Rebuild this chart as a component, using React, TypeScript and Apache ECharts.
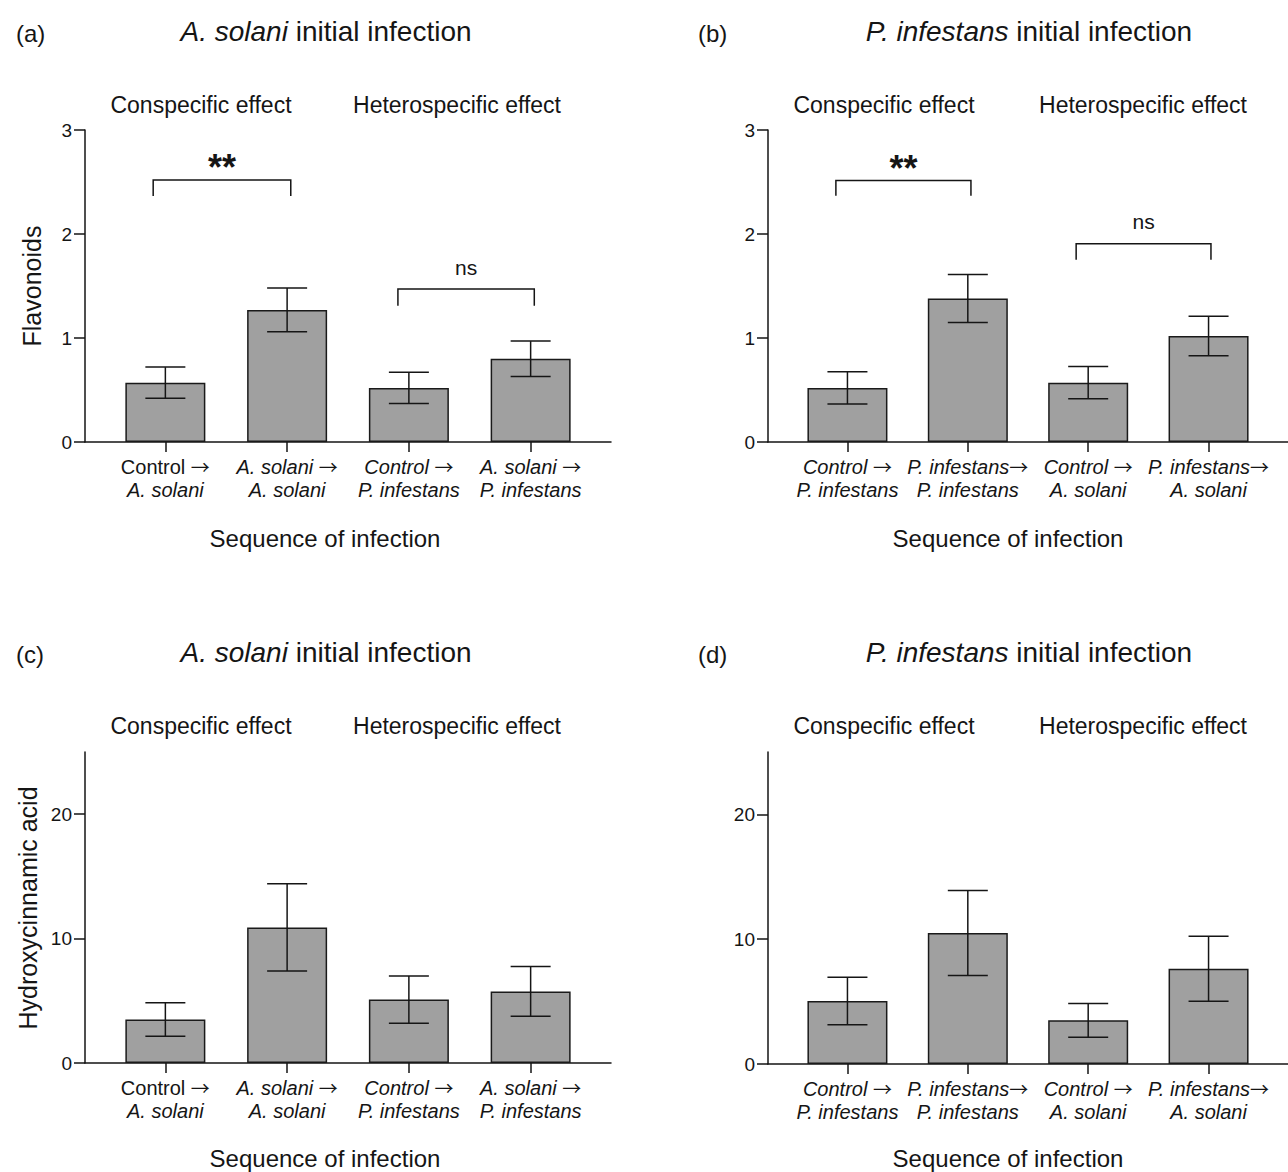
import React, { useEffect, useRef } from "react";
import * as echarts from "echarts";

// ---- Data ----
const positions = [0, 1, 2, 3];

const flavA = [0.57, 1.27, 0.52, 0.8];
const flavAErr = [0.15, 0.21, 0.15, 0.17];
const flavB = [0.52, 1.38, 0.57, 1.02];
const flavBErr = [0.155, 0.23, 0.155, 0.19];
const hcaC = [3.5, 10.9, 5.1, 5.75];
const hcaCErr = [1.35, 3.5, 1.9, 2.0];
const hcaD = [5.05, 10.5, 3.5, 7.63];
const hcaDErr = [1.9, 3.4, 1.35, 2.6];

const catLine1A = ["Control →", "A. solani →", "Control →", "A. solani →"];
const catLine2A = ["A. solani", "A. solani", "P. infestans", "P. infestans"];
const catLine1Upright = [true, false, false, false];
const catLine1B = ["Control →", "P. infestans→", "Control →", "P. infestans→"];
const catLine2B = ["P. infestans", "P. infestans", "A. solani", "A. solani"];
const catLine1UprightB = [false, false, false, false];

const topTicks = [0, 1, 2, 3];
const bottomTicks = [0, 10, 20];

// brackets: [x1, x2, yTop, yLeg]
const bracketsA = [
  [-0.1, 1.03, 2.52, 2.366],
  [1.91, 3.03, 1.47, 1.31],
];
const bracketLabelsA = ["**", "ns"];
const bracketsB = [
  [-0.096, 1.026, 2.514, 2.367],
  [1.9, 3.02, 1.906, 1.752],
];
const bracketLabelsB = ["**", "ns"];

const FONT = "'Liberation Sans', Arial, Helvetica, sans-serif";
const ARROW_FONT = "'Noto Sans CJK SC', 'DejaVu Sans', sans-serif";
const INK = "#151515";

function fmtLine(s: string, style: string) {
  return s
    .split("→")
    .map((p) => (p ? "{" + style + "|" + p + "}" : ""))
    .join("{ar|→}");
}

function buildPanel(
  idx: number,
  left: number,
  top: number,
  height: number,
  yMax: number,
  ticks: number[],
  means: number[],
  errs: number[],
  l1: string[],
  l2: string[],
  upright: boolean[],
  brackets: number[][] | null,
  bracketLabels: string[] | null
) {
  const grid = { left, top, width: 526, height, containLabel: false };
  const xAxis = {
    gridIndex: idx,
    type: "value",
    min: -0.66,
    max: 3.66,
    splitLine: { show: false },
    axisLine: { show: true, onZero: false, lineStyle: { color: INK, width: 1.5 } },
    axisTick: {
      show: true,
      customValues: positions,
      length: 10,
      lineStyle: { color: INK, width: 1.5 },
    },
    axisLabel: {
      show: true,
      customValues: positions,
      margin: 13,
      formatter: (v: number) => {
        const i = Math.round(v);
        if (i < 0 || i > 3) return "";
        return fmtLine(l1[i], upright[i] ? "u" : "i") + "\n" + fmtLine(l2[i], "i");
      },
      rich: {
        u: { fontSize: 20, fontFamily: FONT, color: INK, lineHeight: 23 },
        i: { fontSize: 20, fontFamily: FONT, fontStyle: "italic", color: INK, lineHeight: 23 },
        ar: { fontSize: 19, fontFamily: ARROW_FONT, color: INK, lineHeight: 23 },
      },
    },
  };
  const yAxis = {
    gridIndex: idx,
    type: "value",
    min: 0,
    max: yMax,
    splitLine: { show: false },
    axisLine: { show: true, onZero: false, lineStyle: { color: INK, width: 1.5 } },
    axisTick: {
      show: true,
      customValues: ticks,
      length: 11,
      lineStyle: { color: INK, width: 1.5 },
    },
    axisLabel: {
      show: true,
      customValues: ticks,
      margin: 13,
      fontSize: 19,
      fontFamily: FONT,
      color: INK,
    },
  };
  const series: any[] = [
    {
      type: "bar",
      xAxisIndex: idx,
      yAxisIndex: idx,
      barWidth: 80,
      data: means.map((m, i) => [positions[i], m]),
      itemStyle: { color: "#a0a0a0", borderColor: "#1a1a1a", borderWidth: 1.5 },
      z: 2,
    },
    {
      type: "custom",
      xAxisIndex: idx,
      yAxisIndex: idx,
      z: 4,
      data: means.map((m, i) => [positions[i], m - errs[i], m + errs[i]]),
      renderItem: (params: any, api: any) => {
        const x = api.value(0);
        const lo = api.coord([x, api.value(1)]);
        const hi = api.coord([x, api.value(2)]);
        const h = 20;
        const st = { stroke: INK, lineWidth: 1.5 };
        return {
          type: "group",
          children: [
            { type: "line", shape: { x1: lo[0], y1: lo[1], x2: hi[0], y2: hi[1] }, style: st },
            { type: "line", shape: { x1: hi[0] - h, y1: hi[1], x2: hi[0] + h, y2: hi[1] }, style: st },
            { type: "line", shape: { x1: lo[0] - h, y1: lo[1], x2: lo[0] + h, y2: lo[1] }, style: st },
          ],
        };
      },
    },
  ];
  if (brackets && bracketLabels) {
    series.push({
      type: "custom",
      xAxisIndex: idx,
      yAxisIndex: idx,
      z: 5,
      data: brackets,
      renderItem: (params: any, api: any) => {
        const x1 = api.value(0);
        const x2 = api.value(1);
        const yT = api.value(2);
        const yL = api.value(3);
        const a = api.coord([x1, yL]);
        const b = api.coord([x1, yT]);
        const c = api.coord([x2, yT]);
        const d = api.coord([x2, yL]);
        const label = bracketLabels[params.dataIndex];
        const isStar = label === "**";
        return {
          type: "group",
          children: [
            {
              type: "polyline",
              shape: { points: [a, b, c, d] },
              style: { stroke: INK, lineWidth: 1.5, fill: null },
            },
            {
              type: "text",
              x: (b[0] + c[0]) / 2,
              y: b[1] - (isStar ? 12 : 22),
              style: {
                text: label,
                fontSize: isStar ? 36 : 21,
                fontWeight: isStar ? "bold" : "normal",
                fontFamily: FONT,
                fill: INK,
                align: "center",
                verticalAlign: "middle",
              },
            },
          ],
        };
      },
    });
  }
  return { grid, xAxis, yAxis, series };
}

function txt(x: number, y: number, text: string, size: number, opts: any = {}) {
  return {
    type: "text",
    x,
    y,
    rotation: opts.rotation || 0,
    style: {
      text,
      fontSize: size,
      fontFamily: FONT,
      fill: INK,
      align: opts.align || "center",
      verticalAlign: "middle",
      rich: {
        i: { fontSize: size, fontFamily: FONT, fontStyle: "italic", fill: INK },
      },
    },
  };
}

export default function App() {
  const ref = useRef<HTMLDivElement>(null);
  useEffect(() => {
    if (!ref.current) return;
    const chart = echarts.init(ref.current, undefined, { renderer: "svg" });
    const panels = [
      buildPanel(0, 85, 130, 312, 3, topTicks, flavA, flavAErr, catLine1A, catLine2A, catLine1Upright, bracketsA, bracketLabelsA),
      buildPanel(1, 768, 130, 312, 3, topTicks, flavB, flavBErr, catLine1B, catLine2B, catLine1UprightB, bracketsB, bracketLabelsB),
      buildPanel(2, 85, 752, 311, 25, bottomTicks, hcaC, hcaCErr, catLine1A, catLine2A, catLine1Upright, null, null),
      buildPanel(3, 768, 752, 312, 25, bottomTicks, hcaD, hcaDErr, catLine1B, catLine2B, catLine1UprightB, null, null),
    ];
    const graphic = [
      txt(16, 33, "(a)", 24, { align: "left" }),
      txt(698, 33, "(b)", 24, { align: "left" }),
      txt(16, 654, "(c)", 24, { align: "left" }),
      txt(698, 654, "(d)", 24, { align: "left" }),
      txt(326, 31, "{i|A. solani} initial infection", 28),
      txt(1029, 31, "{i|P. infestans} initial infection", 28),
      txt(326, 652, "{i|A. solani} initial infection", 28),
      txt(1029, 652, "{i|P. infestans} initial infection", 28),
      txt(201, 105, "Conspecific effect", 23),
      txt(457, 105, "Heterospecific effect", 23),
      txt(884, 105, "Conspecific effect", 23),
      txt(1143, 105, "Heterospecific effect", 23),
      txt(201, 726, "Conspecific effect", 23),
      txt(457, 726, "Heterospecific effect", 23),
      txt(884, 726, "Conspecific effect", 23),
      txt(1143, 726, "Heterospecific effect", 23),
      txt(32, 286, "Flavonoids", 25, { rotation: Math.PI / 2 }),
      txt(28, 908, "Hydroxycinnamic acid", 25, { rotation: Math.PI / 2 }),
      txt(325, 538, "Sequence of infection", 24),
      txt(1008, 538, "Sequence of infection", 24),
      txt(325, 1158, "Sequence of infection", 24),
      txt(1008, 1158, "Sequence of infection", 24),
    ];
    chart.setOption({
      animation: false,
      backgroundColor: "#ffffff",
      grid: panels.map((p) => p.grid),
      xAxis: panels.map((p) => p.xAxis),
      yAxis: panels.map((p) => p.yAxis),
      series: panels.flatMap((p) => p.series),
      graphic,
    });
    return () => chart.dispose();
  }, []);
  return (
    <div
      ref={ref}
      style={{ position: "fixed", left: 0, top: 0, width: 1288, height: 1172, background: "#fff" }}
    />
  );
}
